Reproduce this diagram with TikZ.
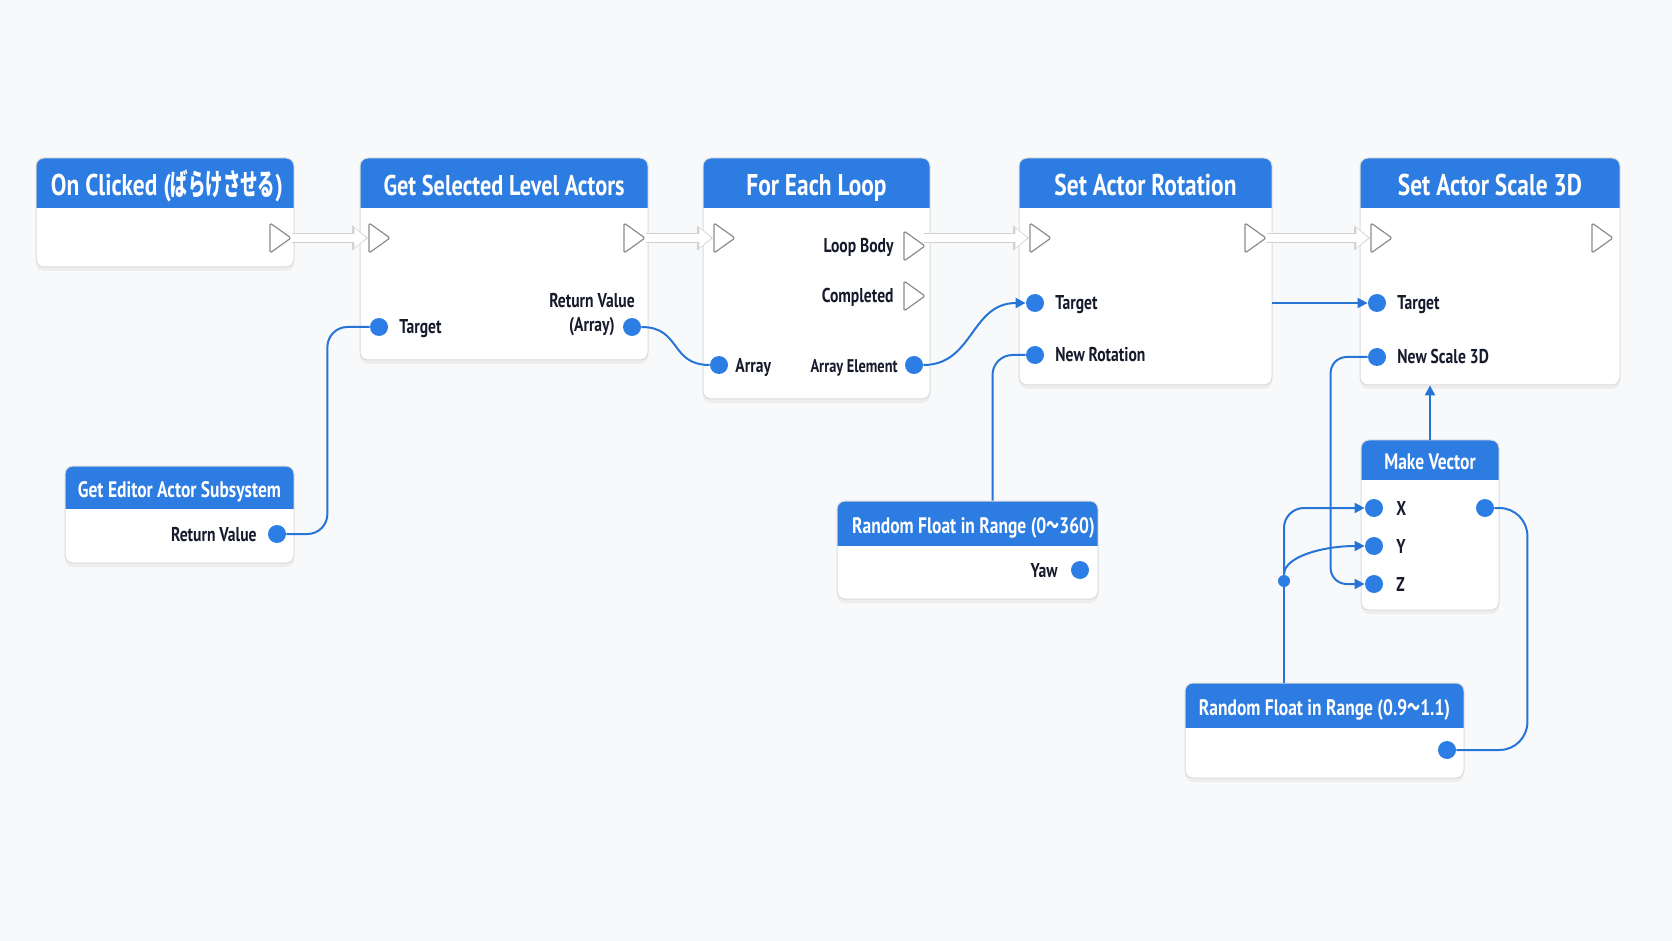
\documentclass[tikz,border=0pt]{standalone}
\usepackage{fontspec}
\setmainfont{PT Sans}[FakeStretch=0.78]
\newfontfamily\cjk{Noto Sans CJK JP}[FakeStretch=0.58]
\usetikzlibrary{calc,arrows.meta,fit}
\definecolor{bpblue}{RGB}{44,124,226}
\definecolor{pinblue}{RGB}{45,126,228}
\definecolor{wireblue}{RGB}{38,116,214}
\definecolor{pagebg}{RGB}{248,249,251}
\definecolor{labelink}{RGB}{22,26,44}
\tikzset{
  bpbody/.style={fill=white, rounded corners=4pt},
  bpedge/.style={draw=black!14, line width=0.5pt},
  bpshadow/.style={black!7},
  bigtitle/.style={text=white, font=\bfseries\fontsize{15}{18}\selectfont, inner sep=0pt,
    text height=10.5pt, text depth=0pt, yshift=-1pt},
  smalltitle/.style={text=white, font=\bfseries\fontsize{11.2}{14}\selectfont, inner sep=0pt,
    text height=7.9pt, text depth=0pt, yshift=-0.8pt},
  pinfont/.style={text=labelink, font=\bfseries\fontsize{10}{12}\selectfont, inner sep=0pt},
  pinlabel/.style={pinfont, text height=7pt, text depth=0pt},
  datapin/.style={circle, fill=pinblue, inner sep=0pt, minimum size=9pt},
  junction/.style={circle, fill=pinblue, inner sep=0pt, minimum size=6pt},
  execpin/.style={draw=black!45, fill=white, line width=0.6pt, rounded corners=0.8pt, line join=round},
  execwire/.style={line width=5pt, black!18, -{Triangle[length=8pt,width=12pt]}},
  execfill/.style={line width=3.6pt, white, -{Triangle[length=6pt,width=9.5pt]}, shorten >=0.8pt},
  datawire/.style={draw=wireblue, line width=1pt},
  dataarrow/.style={datawire, -{Triangle[length=5pt,width=5pt]}},
}
% blueprint node: name, x1, y1, x2, y2, header bottom, title, title style
\newcommand{\bpbox}[8]{
  \fill[bpshadow, rounded corners=4pt] (#2,#3+4) rectangle (#4,#5+4);
  \fill[bpbody] (#2,#3) rectangle (#4,#5);
  \begin{scope}
    \clip[rounded corners=4pt] (#2,#3) rectangle (#4,#5);
    \fill[bpblue] (#2,#3) rectangle (#4,#6);
  \end{scope}
  \draw[bpedge, rounded corners=4pt] (#2,#3) rectangle (#4,#5);
  \node[fit={(#2,#3)(#4,#5)}, inner sep=0pt] (#1) {};
  \node[#8] (#1-title) at ({(#2+#4)/2},{(#3+#6)/2}) {#7};
}
\newcommand{\execpin}[2]{
  \coordinate (#1) at #2;
  \draw[execpin] ($(#1)+(-10,-15)$) -- ($(#1)+(11,0)$) -- ($(#1)+(-10,15)$) -- cycle;
}

\begin{document}
\begin{tikzpicture}[x=0.5pt, y=-0.5pt]
\fill[pagebg] (0,0) rectangle (1672,941);
\useasboundingbox (0,0) rectangle (1672,941);

% nodes
\bpbox{oc}{36}{158}{294}{267}{208}{On Clicked ({\cjk ばらけさせる})}{bigtitle, xshift=1pt}
\bpbox{gsla}{360}{158}{648}{360}{208}{Get Selected Level Actors}{bigtitle, font=\bfseries\fontsize{14.3}{18}\selectfont}
\bpbox{fel}{703}{158}{930}{399}{208}{For Each Loop}{bigtitle}
\bpbox{sar}{1019}{158}{1272}{385}{208}{Set Actor Rotation}{bigtitle}
\bpbox{sas}{1360}{158}{1620}{385}{208}{Set Actor Scale 3D}{bigtitle}
\bpbox{geas}{65}{466}{294}{563}{509}{Get Editor Actor Subsystem}{smalltitle}
\bpbox{rfyaw}{837}{501}{1098}{599}{546}{Random Float in Range (0{\cjk ～}360)}{smalltitle, xshift=3pt}
\bpbox{mv}{1361}{440}{1499}{610}{480}{Make Vector}{smalltitle}
\bpbox{rfscale}{1185}{683}{1464}{778}{728}{Random Float in Range (0.9{\cjk ～}1.1)}{smalltitle}

% exec pins
\execpin{oc-out}{(280,238)}
\execpin{gsla-in}{(379,238)}
\execpin{gsla-out}{(634,238)}
\execpin{fel-in}{(724,238)}
\execpin{fel-body}{(914,246)}
\execpin{fel-done}{(914,296)}
\execpin{sar-in}{(1040,238)}
\execpin{sar-out}{(1255,238)}
\execpin{sas-in}{(1381,238)}
\execpin{sas-out}{(1602,238)}
\node[pinlabel, anchor=east] (fel-body-l) at ([xshift=-10pt]fel-body) {Loop Body};
\node[pinlabel, anchor=east] (fel-done-l) at ([xshift=-10pt]fel-done) {Completed};

% exec wires
\foreach \a/\b in {oc-out/gsla-in, gsla-out/fel-in, sar-out/sas-in} {
  \draw[execwire] ([xshift=6pt]\a) -- ([xshift=-5.5pt]\b);
  \draw[execfill] ([xshift=6pt]\a) -- ([xshift=-5.5pt]\b);
}
\draw[execwire] ([xshift=5pt]fel-body |- sar-in) -- ([xshift=-5.5pt]sar-in);
\draw[execfill] ([xshift=5pt]fel-body |- sar-in) -- ([xshift=-5.5pt]sar-in);

% data pins
\node[datapin] (gsla-target) at (379,327) {};
\node[datapin] (gsla-ret) at (632,327) {};
\node[datapin] (fel-array) at (719,365) {};
\node[datapin] (fel-elem) at (914,365) {};
\node[datapin] (sar-target) at (1035,303) {};
\node[datapin] (sar-rot) at (1035,355) {};
\node[datapin] (sas-target) at (1377,303) {};
\node[datapin] (sas-scale) at (1377,357) {};
\node[datapin] (geas-ret) at (277,534) {};
\node[datapin] (rfyaw-out) at (1080,570) {};
\node[datapin] (mv-x) at (1374,508) {};
\node[datapin] (mv-y) at (1374,546) {};
\node[datapin] (mv-z) at (1374,584) {};
\node[datapin] (mv-out) at (1485,508) {};
\node[datapin] (rfscale-out) at (1447,750) {};
\node[junction] (junc) at (1284,581) {};

% pin labels
\node[pinlabel, anchor=west] (gsla-target-l) at ([xshift=10pt]gsla-target.center) {Target};
\node[pinfont, align=center] (gsla-ret-l) at (592,315) {Return Value\\(Array)};
\node[pinlabel, anchor=west] (fel-array-l) at ([xshift=8pt]fel-array.center) {Array};
\node[pinlabel, anchor=east, font=\bfseries\fontsize{9.2}{12}\selectfont] (fel-elem-l) at ([xshift=-8pt]fel-elem.center) {Array Element};
\node[pinlabel, anchor=west] (sar-target-l) at ([xshift=10pt]sar-target.center) {Target};
\node[pinlabel, anchor=west] (sar-rot-l) at ([xshift=10pt]sar-rot.center) {New Rotation};
\node[pinlabel, anchor=west] (sas-target-l) at ([xshift=10pt]sas-target.center) {Target};
\node[pinlabel, anchor=west] (sas-scale-l) at ([xshift=10pt]sas-scale.center) {New Scale 3D};
\node[pinlabel, anchor=east] (geas-ret-l) at ([xshift=-10pt]geas-ret.center) {Return Value};
\node[pinlabel, anchor=east] (rfyaw-out-l) at ([xshift=-11pt]rfyaw-out.center) {Yaw};
\node[pinlabel, anchor=west] (mv-x-l) at ([xshift=11pt]mv-x.center) {X};
\node[pinlabel, anchor=west] (mv-y-l) at ([xshift=11pt]mv-y.center) {Y};
\node[pinlabel, anchor=west] (mv-z-l) at ([xshift=11pt]mv-z.center) {Z};

% data wires
\draw[datawire, rounded corners=10pt] (geas-ret.east) -- ++(41,0) |- (gsla-target.west);
\draw[datawire] (gsla-ret.east) .. controls +(40,0) and +(-40,0) .. (fel-array.west);
\draw[dataarrow] (fel-elem.east) .. controls +(50,0) and +(-55,0) .. (sar-target.west);
\draw[datawire, rounded corners=10pt] ([xshift=12.5pt]rfyaw.north) |- (sar-rot.west);
\draw[dataarrow] (sar.east |- sas-target) -- (sas-target.west);
\draw[dataarrow] (mv.north) -- (mv.north |- sas.south);
\draw[dataarrow, rounded corners=8pt] (sas-scale.west) -- ++(-37,0) |- (mv-z.west);
\draw[datawire] (rfscale.north -| junc) -- (junc);
\draw[dataarrow, rounded corners=10pt] (junc) |- (mv-x.west);
\draw[dataarrow] (junc) .. controls +(0,-25) and +(-40,0) .. (mv-y.west);
\draw[datawire, rounded corners=14pt] (mv-out.east) -- ++(33,0) |- (rfscale-out.east);
\end{tikzpicture}
\end{document}
